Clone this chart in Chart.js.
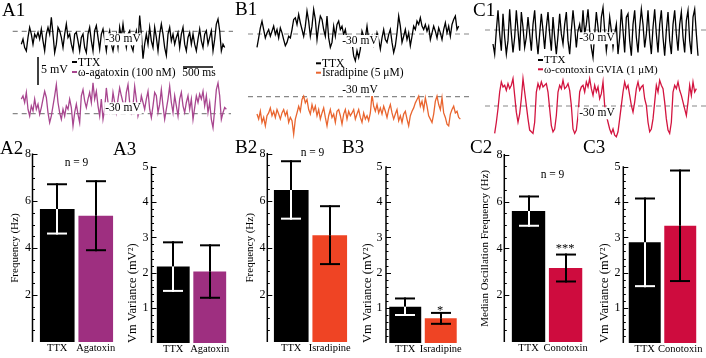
<!DOCTYPE html>
<html><head><meta charset="utf-8">
<script src="https://cdn.jsdelivr.net/npm/chart.js@4.4.1/dist/chart.umd.min.js"></script>
<style>
html,body{margin:0;padding:0;background:#fff}
#fig{position:relative;width:706px;height:358px;overflow:hidden;background:#fff}
#fig canvas{position:absolute}
</style></head>
<body><div id="fig"></div>
<script>
// ================= DATA =================
const refLevelMv = -30;
const scaleBarMv = 5, scaleBarMs = 500;
const sampleMs = 27.78;

const traceA1_TTX = [
-32.3,-31.4,-32.9,-33.5,-31.1,-29.3,-30.5,-32.3,-30.5,-31.1,
-30.2,-31.4,-29.6,-31.7,-33.5,-30.5,-29.3,-30.5,-27.5,-30.5,
-33.8,-32.3,-29.3,-29.9,-31.1,-32.9,-30.5,-28.7,-31.1,-30.5,
-32.3,-33.5,-30.5,-30.2,-31.7,-33.5,-31.1,-30.5,-32.9,-33.8,
-30.5,-29.3,-31.7,-33.5,-29.9,-29.0,-31.1,-33.2,-30.5,-29.6,
-31.4,-33.5,-31.1,-29.9,-32.3,-33.5,-31.7,-30.5,-32.9,-29.3,
-31.1,-28.7,-31.1,-32.9,-30.5,-29.9,-32.6,-33.5,-31.1,-29.9,
-32.3,-27.2,-30.5,-34.9,-32.3,-30.5,-32.3,-29.3,-31.7,-32.9,
-29.3,-31.1,-33.5,-30.5,-28.7,-30.5,-32.9,-34.3,-30.5,-29.3,
-31.7,-30.5,-32.3,-31.1,-30.2,-32.9,-30.5,-29.3,-32.3,-33.5,
-31.1,-30.2,-32.3,-30.5,-32.3,-33.5,-31.4,-29.6,-31.7,-32.9,
-30.5,-29.9,-32.3,-31.1,-29.9,-33.5,-31.4,-28.7,-27.8,-29.9,
-33.5,-32.3,-32.9];
const traceA1_Agatoxin = [
-27.4,-26.8,-28.0,-26.2,-29.2,-30.4,-28.6,-29.5,-27.4,-29.2,
-28.3,-30.1,-28.9,-27.4,-26.0,-27.1,-29.8,-31.6,-30.4,-28.6,
-26.8,-24.8,-28.0,-29.8,-31.0,-29.2,-30.4,-28.6,-29.2,-27.4,
-28.9,-32.2,-29.8,-28.3,-30.1,-31.6,-26.8,-25.7,-27.7,-28.9,
-27.4,-26.2,-28.0,-24.5,-27.4,-26.0,-28.6,-30.4,-27.4,-31.0,
-29.2,-25.4,-28.0,-29.8,-29.2,-26.2,-28.0,-29.8,-27.4,-25.4,
-26.8,-28.0,-29.2,-26.2,-24.8,-28.0,-29.8,-28.6,-25.1,-27.4,
-30.4,-29.2,-26.8,-28.0,-29.2,-27.4,-26.0,-29.2,-30.7,-28.6,
-26.2,-26.8,-29.8,-28.3,-25.7,-28.6,-31.0,-29.2,-27.4,-25.1,
-28.0,-29.8,-26.8,-28.6,-30.4,-27.4,-26.2,-28.6,-29.8,-28.0,
-26.8,-29.2,-27.4,-31.0,-28.9,-26.8,-28.0,-26.5,-27.4,-26.0,
-28.6,-26.8,-29.8,-28.0,-31.0,-32.5,-29.2,-25.7,-24.5,-26.8,
-31.0,-29.8,-28.9,-29.2];
const traceB1_TTX = [
-32.4,-30.7,-28.9,-27.7,-29.2,-30.7,-29.8,-29.2,-30.4,-29.5,
-28.6,-30.1,-29.2,-30.7,-28.9,-29.8,-31.0,-32.1,-31.5,-30.4,
-30.7,-29.2,-27.4,-27.1,-28.3,-26.5,-28.0,-29.2,-30.4,-28.6,
-25.9,-27.7,-30.4,-28.6,-25.6,-27.4,-31.0,-28.6,-26.8,-27.4,
-29.2,-30.4,-26.8,-30.7,-32.4,-31.5,-28.6,-30.4,-28.3,-27.7,
-29.2,-28.6,-30.1,-29.2,-31.0,-30.4,-32.1,-31.5,-33.9,-34.8,
-33.0,-34.2,-32.7,-29.5,-30.4,-30.7,-28.6,-31.0,-31.5,-30.4,
-32.1,-31.5,-29.8,-31.0,-32.7,-30.7,-29.2,-31.0,-31.5,-30.1,
-29.2,-31.5,-33.3,-32.1,-29.8,-26.8,-28.6,-31.5,-30.4,-29.2,
-31.0,-29.8,-32.1,-30.4,-28.6,-29.2,-27.7,-28.3,-27.1,-28.6,
-29.2,-28.3,-29.5,-28.6,-31.0,-29.8,-28.6,-29.5,-30.7,-28.9,
-29.8,-31.0,-29.2,-28.0,-29.8,-28.6,-30.4,-28.3,-27.4,-26.8,
-29.2,-28.6];
const traceB1_Isradipine = [
-33.1,-34.0,-32.6,-34.6,-33.7,-35.2,-33.4,-32.9,-32.0,-33.4,
-32.6,-33.7,-32.3,-33.1,-34.0,-32.9,-32.3,-33.4,-32.6,-34.6,
-33.7,-34.3,-36.7,-34.0,-32.9,-31.7,-32.6,-30.5,-29.9,-31.1,
-30.5,-32.3,-33.1,-31.4,-32.6,-31.7,-33.4,-32.3,-34.0,-32.9,
-32.0,-33.7,-35.2,-33.4,-32.3,-33.7,-33.1,-34.6,-32.6,-32.3,
-33.4,-34.9,-33.1,-32.3,-34.0,-32.6,-33.4,-32.9,-32.3,-34.0,
-33.1,-32.3,-33.7,-34.6,-32.9,-34.0,-33.4,-34.3,-32.9,-29.6,
-31.7,-32.6,-31.4,-32.9,-32.0,-33.1,-31.7,-32.6,-33.7,-32.3,
-31.4,-32.9,-34.0,-33.1,-32.3,-34.3,-33.4,-34.6,-33.1,-32.6,
-34.0,-35.2,-33.4,-32.6,-32.0,-31.1,-30.5,-29.9,-31.7,-30.8,
-32.3,-30.2,-31.7,-33.4,-34.0,-34.6,-33.1,-30.8,-29.9,-31.4,
-32.3,-30.2,-32.9,-33.7,-34.9,-35.2,-33.1,-32.3,-31.7,-32.9,
-32.6,-33.7,-34.0];
const traceC1_TTX = [
-32.5,-34.3,-30.1,-26.5,-30.7,-33.7,-27.1,-31.3,-34.3,-31.9,
-26.3,-30.7,-34.0,-31.3,-26.5,-30.1,-33.7,-26.8,-29.5,-33.1,
-31.3,-27.7,-30.7,-33.7,-29.0,-26.5,-31.3,-34.3,-30.7,-27.1,
-30.1,-33.4,-29.5,-26.8,-30.7,-33.7,-27.7,-31.3,-34.3,-31.0,
-27.1,-30.7,-32.5,-29.0,-26.8,-31.9,-34.3,-30.1,-26.5,-29.5,
-33.1,-30.1,-29.0,-31.3,-26.5,-30.7,-29.0,-26.3,-30.1,-33.1,
-34.9,-30.7,-26.8,-29.5,-32.5,-27.7,-26.0,-30.1,-33.7,-31.3,
-27.7,-30.1,-33.1,-30.7,-29.0,-34.3,-31.3,-26.3,-30.1,-34.0,
-27.7,-27.1,-31.9,-34.6,-29.0,-26.5,-31.3,-34.0,-29.5,-26.3,
-29.0,-33.1,-30.7,-26.5,-31.3,-34.3,-29.5,-26.3,-30.7,-34.0,
-29.0,-26.5,-31.3,-34.6,-30.1,-26.8,-31.9,-34.3,-29.0,-26.5,
-30.7,-33.7,-29.0,-26.8,-31.3,-34.0,-28.3,-26.5,-31.9,-34.3,
-27.7,-26.3,-30.7,-34.6];
const traceC1_Conotoxin = [
-34.9,-32.9,-30.5,-27.5,-25.7,-26.6,-26.3,-27.2,-26.0,-26.9,
-26.3,-25.1,-28.1,-31.1,-32.9,-31.4,-28.7,-25.1,-27.5,-29.9,
-32.3,-34.3,-34.6,-34.9,-32.9,-27.5,-26.0,-26.9,-25.7,-26.6,
-26.3,-26.0,-27.5,-30.5,-33.5,-34.6,-34.1,-31.7,-27.5,-26.3,
-26.9,-25.4,-26.9,-26.6,-26.0,-27.2,-29.9,-34.1,-34.9,-34.3,
-31.7,-27.5,-26.6,-26.3,-27.5,-25.7,-26.6,-25.1,-26.9,-28.1,
-26.3,-27.5,-26.6,-28.7,-27.8,-25.7,-29.9,-31.7,-32.9,-34.1,
-34.9,-34.1,-35.2,-35.5,-34.6,-32.3,-29.9,-27.5,-25.7,-26.9,
-26.3,-28.1,-29.9,-31.1,-29.3,-26.9,-25.7,-27.2,-26.6,-26.3,
-28.7,-29.9,-32.9,-34.6,-34.1,-32.3,-29.3,-26.3,-27.5,-25.4,
-26.3,-26.9,-29.3,-32.3,-34.3,-34.9,-32.9,-27.5,-26.3,-26.9,
-25.7,-27.2,-28.1,-29.3,-30.5,-31.7,-29.3,-26.3,-28.1,-25.7,
-27.5,-26.9];
const traceStartMsA1 = [0, 0];
const traceStartMsB1 = [0, 0];
const traceStartMsC1 = [0, 27.78];

const barLabelsA = ['TTX', 'Agatoxin'];
const barLabelsB = ['TTX', 'Isradipine'];
const barLabelsC = ['TTX', 'Conotoxin'];
const freqMeanA = [5.67, 5.38], freqErrA = [1.05, 1.47];
const varMeanA  = [2.17, 2.03], varErrA  = [0.69, 0.745];
const freqMeanB = [6.46, 4.54], freqErrB = [1.22, 1.23];
const varMeanB  = [1.03, 0.70], varErrB  = [0.235, 0.155];
const freqMeanC = [5.59, 3.16], freqErrC = [0.625, 0.575];
const varMeanC  = [2.86, 3.33], varErrC  = [1.245, 1.57];
const freqTicks = [2, 4, 6, 8];
const varTicks  = [1, 2, 3, 4, 5];
const nCells = 9;

// ================= STYLE / LAYOUT =================
const SERIF = "'Liberation Serif','Times New Roman',serif";
const COL = {ttx:'#000000', aga:'#9E2F80', isr:'#EF4424', cono:'#CE0C3E',
             agaTrace:'#A8468F', isrTrace:'#E9652F', conoTrace:'#D3143F', dash:'#888888'};
const msPerPx = 500/30, pxPerMv = 5.6;
Chart.defaults.font.family = SERIF;
const fig = document.getElementById('fig');

function makeCanvas(l,t,w,h){
  const c=document.createElement('canvas');
  c.width=w; c.height=h;
  c.style.left=l+'px'; c.style.top=t+'px'; c.style.width=w+'px'; c.style.height=h+'px';
  fig.appendChild(c); return c;
}
function seg(ctx,x1,y1,x2,y2){ctx.beginPath();ctx.moveTo(x1,y1);ctx.lineTo(x2,y2);ctx.stroke();}

// ---------- top trace panels ----------
const TOP_H = 140;
const topPanels = [
 {id:'A1', left:0, width:235, startPx:21.33,
  traces:[{values:traceA1_TTX, start:traceStartMsA1[0], color:COL.ttx, dashPx:31.3, dashX:[12.7,233]},
          {values:traceA1_Agatoxin, start:traceStartMsA1[1], color:COL.agaTrace, dashPx:113.7, dashX:[12.7,231]}],
  label:{text:'A1', x:2, y:11},
  mvLabels:[{x:123,y:39.3},{x:123,y:108.3}],
  legend:{x:72, size:11.5, rows:[{y:62,color:COL.ttx,text:'TTX'},{y:72,color:COL.agaTrace,text:'ω-agatoxin (100 nM)'}]},
  scaleBars:{vx:38, vy:57, hx:183, hy:67, vText:{x:41,y:70}, hText:{x:199,y:73}}},
 {id:'B1', left:235, width:235, startPx:22,
  traces:[{values:traceB1_TTX, start:traceStartMsB1[0], color:COL.ttx, dashPx:34, dashX:[248,470]},
          {values:traceB1_Isradipine, start:traceStartMsB1[1], color:COL.isrTrace, dashPx:96.7, dashX:[248,470]}],
  label:{text:'B1', x:235, y:10.5},
  mvLabels:[{x:360,y:41},{x:360,y:90}],
  legend:{x:316, size:11.5, rows:[{y:63.3,color:COL.ttx,text:'TTX'},{y:72.7,color:COL.isrTrace,text:'Isradipine (5 μM)'}]}},
 {id:'C1', left:470, width:236, startPx:23,
  traces:[{values:traceC1_TTX, start:traceStartMsC1[0], color:COL.ttx, dashPx:30, dashX:[485,706]},
          {values:traceC1_Conotoxin, start:traceStartMsC1[1], color:COL.conoTrace, dashPx:106, dashX:[485,706]}],
  label:{text:'C1', x:473, y:11},
  mvLabels:[{x:597,y:38.3},{x:597,y:113.3}],
  legend:{x:538, size:11, rows:[{y:60,color:COL.ttx,text:'TTX'},{y:69.3,color:COL.conoTrace,text:'ω-contoxin GVIA (1 μM)'}]}}
];

function makeTopPlugin(p){
  return {
    id:'top'+p.id,
    beforeDatasetsDraw(chart){
      const ctx=chart.ctx;
      ctx.save(); ctx.setLineDash([5,4]); ctx.strokeStyle=COL.dash; ctx.lineWidth=1.2;
      p.traces.forEach((tr,k)=>{
        const y=chart.scales[k?'y2':'y'].getPixelForValue(refLevelMv);
        seg(ctx,tr.dashX[0]-p.left,y,tr.dashX[1]-p.left,y);
      });
      ctx.restore();
    },
    afterDatasetsDraw(chart){
      const ctx=chart.ctx, L=p.left;
      ctx.save(); ctx.textBaseline='middle';
      ctx.font='11.5px '+SERIF;
      p.mvLabels.forEach(m=>{
        const t=refLevelMv+' mV', w=ctx.measureText(t).width;
        ctx.fillStyle='#fff'; ctx.fillRect(m.x-L-w/2-1, m.y-6, w+2, 12);
        ctx.fillStyle='#000'; ctx.textAlign='center'; ctx.fillText(t, m.x-L, m.y);
      });
      ctx.font=p.legend.size+'px '+SERIF; ctx.textAlign='left';
      p.legend.rows.forEach(r=>{
        ctx.strokeStyle=r.color; ctx.lineWidth=2; seg(ctx,p.legend.x-L,r.y,p.legend.x-L+5,r.y);
        ctx.fillStyle='#000'; ctx.fillText(r.text,p.legend.x-L+6,r.y+0.5);
      });
      if(p.scaleBars){
        const sb=p.scaleBars, ys=chart.scales.y, xs=chart.scales.x;
        const vlen=Math.abs(ys.getPixelForValue(refLevelMv)-ys.getPixelForValue(refLevelMv-scaleBarMv));
        const hlen=Math.abs(xs.getPixelForValue(scaleBarMs)-xs.getPixelForValue(0));
        ctx.strokeStyle='#000'; ctx.lineWidth=1.5;
        seg(ctx,sb.vx-L,sb.vy,sb.vx-L,sb.vy+vlen);
        seg(ctx,sb.hx-L,sb.hy,sb.hx-L+hlen,sb.hy);
        ctx.fillStyle='#000'; ctx.font='12px '+SERIF; ctx.textAlign='left';
        ctx.fillText(scaleBarMv+' mV',sb.vText.x-L,sb.vText.y);
        ctx.font='11.5px '+SERIF; ctx.textAlign='center';
        ctx.fillText(scaleBarMs+' ms',sb.hText.x-L,sb.hText.y);
      }
      ctx.font='19px '+SERIF; ctx.textAlign='left'; ctx.fillStyle='#000';
      ctx.fillText(p.label.text,p.label.x-L,p.label.y);
      ctx.restore();
    }
  };
}

topPanels.forEach(p=>{
  const cv=makeCanvas(p.left,0,p.width,TOP_H);
  const xmin=-p.startPx*msPerPx, xmax=xmin+p.width*msPerPx;
  const yr=p.traces.map(tr=>{const max=refLevelMv+tr.dashPx/pxPerMv; return {min:max-TOP_H/pxPerMv, max};});
  new Chart(cv,{
    type:'line',
    data:{datasets:p.traces.map((tr,k)=>({
      data:tr.values.map((v,i)=>({x:tr.start+i*sampleMs,y:v})),
      yAxisID:k?'y2':'y', borderColor:tr.color, borderWidth:1.3,
      pointRadius:0, tension:0, fill:false}))},
    options:{responsive:false, animation:false, events:[],
      layout:{padding:0},
      plugins:{legend:{display:false}, tooltip:{enabled:false}},
      scales:{x:{type:'linear',display:false,min:xmin,max:xmax},
              y:{type:'linear',display:false,min:yr[0].min,max:yr[0].max},
              y2:{type:'linear',display:false,min:yr[1].min,max:yr[1].max}}},
    plugins:[makeTopPlugin(p)]
  });
});

// ---------- bar panels ----------
const barPanels = [
 {id:'A2', canvas:[0,140,118,218], plot:[38,152,115,342], axisX:32.5, tickRight:31, titleX:15,
  title:'Frequency (Hz)', titleSize:11, titleAlign:'center', max:8, ticks:freqTicks, minorStep:0.5,
  labels:barLabelsA, means:freqMeanA, errs:freqErrA, colors:[COL.ttx,COL.aga],
  notes:[{text:'A2',x:0,y:149,size:19,align:'left'},{text:'n = '+nCells,x:76.5,y:163,size:11.5}]},
 {id:'A3', canvas:[108,140,127,218], plot:[155,167,228,343], axisX:151.5, tickRight:148.5, titleX:133,
  title:'Vm Variance (mV²)', titleSize:12.5, titleAlign:'start', max:5, ticks:varTicks, minorStep:0.2,
  labels:barLabelsA, means:varMeanA, errs:varErrA, colors:[COL.ttx,COL.aga],
  notes:[{text:'A3',x:113,y:150.5,size:19,align:'left'}]},
 {id:'B2', canvas:[235,140,118,218], plot:[272,152,349,342], axisX:267.3, tickRight:265.5, titleX:250,
  title:'Frequency (Hz)', titleSize:11, titleAlign:'center', max:8, ticks:freqTicks, minorStep:0.5,
  labels:barLabelsB, means:freqMeanB, errs:freqErrB, colors:[COL.ttx,COL.isr],
  notes:[{text:'B2',x:235,y:148.5,size:19,align:'left'},{text:'n = '+nCells,x:312.5,y:153,size:11.5}]},
 {id:'B3', canvas:[340,140,130,218], plot:[387.5,167,458.5,343], axisX:386, tickRight:382.5, titleX:368,
  title:'Vm Variance (mV²)', titleSize:12.5, titleAlign:'start', max:5, ticks:varTicks, minorStep:0.2,
  labels:barLabelsB, means:varMeanB, errs:varErrB, colors:[COL.ttx,COL.isr],
  notes:[{text:'B3',x:342,y:148.5,size:19,align:'left'},{text:'*',x:440,y:311,size:12.5}]},
 {id:'C2', canvas:[470,140,118,218], plot:[510,152,587,342], axisX:504.3, tickRight:502.5, titleX:485,
  title:'Median Oscillation Frequency (Hz)', titleSize:11, titleAlign:'center', max:8, ticks:freqTicks, minorStep:0.5,
  labels:barLabelsC, means:freqMeanC, errs:freqErrC, colors:[COL.ttx,COL.cono],
  notes:[{text:'C2',x:470,y:148,size:19,align:'left'},{text:'n = '+nCells,x:552.5,y:175,size:11.5},{text:'***',x:565,y:249,size:12.5}]},
 {id:'C3', canvas:[580,140,126,218], plot:[627,167,698,343], axisX:623.3, tickRight:620.5, titleX:605,
  title:'Vm Variance (mV²)', titleSize:12.5, titleAlign:'start', max:5, ticks:varTicks, minorStep:0.2,
  labels:barLabelsC, means:varMeanC, errs:varErrC, colors:[COL.ttx,COL.cono],
  notes:[{text:'C3',x:583,y:148,size:19,align:'left'}]}
];

function makeBarPlugin(p){
  return {
    id:'bar'+p.id,
    afterDatasetsDraw(chart){
      const ctx=chart.ctx, ys=chart.scales.y, meta=chart.getDatasetMeta(0), ds=chart.data.datasets[0];
      const cl=p.canvas[0], ct=p.canvas[1];
      ctx.save(); ctx.lineCap='butt';
      meta.data.forEach((bar,i)=>{
        const m=ds.data[i], e=ds.errors[i], x=Math.round(bar.x);
        const yt=ys.getPixelForValue(m+e), ym=ys.getPixelForValue(m), yb=ys.getPixelForValue(m-e);
        ctx.lineWidth=2;
        ctx.strokeStyle='#000';
        seg(ctx,x,yt-1,x,ym); seg(ctx,x-10,yt,x+10,yt);
        ctx.strokeStyle = p.colors[i]===COL.ttx ? '#ffffff' : '#000000';
        seg(ctx,x,ym,x,yb+1); seg(ctx,x-10,yb,x+10,yb);
      });
      const ax=p.axisX-cl, y0=ys.getPixelForValue(0), y1=ys.getPixelForValue(p.max);
      ctx.strokeStyle='#000'; ctx.lineWidth=1.5;
      seg(ctx,ax,y0,ax,y1-0.75);
      ctx.lineWidth=1;
      const n=Math.round(p.max/p.minorStep);
      for(let k=1;k<=n;k++){
        const v=k*p.minorStep, major=p.ticks.some(t=>Math.abs(t-v)<1e-6);
        const y=Math.round(ys.getPixelForValue(v))+0.5;
        seg(ctx,ax,y,ax+(major?5:2.5),y);
      }
      ctx.fillStyle='#000'; ctx.textBaseline='middle';
      p.notes.forEach(nt=>{
        ctx.font=nt.size+'px '+SERIF; ctx.textAlign=nt.align||'center';
        ctx.fillText(nt.text,nt.x-cl,nt.y-ct);
      });
      ctx.restore();
    }
  };
}

barPanels.forEach(p=>{
  const [cl,ct,cw,chh]=p.canvas, [pl,pt,pr,pb]=p.plot;
  const cv=makeCanvas(cl,ct,cw,chh);
  new Chart(cv,{
    type:'bar',
    data:{labels:p.labels, datasets:[{data:p.means, errors:p.errs, backgroundColor:p.colors,
      borderWidth:0, barPercentage:0.9, categoryPercentage:1}]},
    options:{responsive:false, animation:false, events:[],
      layout:{padding:{left:0, top:pt-ct, right:cl+cw-pr, bottom:0}},
      plugins:{legend:{display:false}, tooltip:{enabled:false}},
      scales:{
        x:{type:'category', grid:{display:false,drawTicks:false}, border:{display:false},
           ticks:{color:'#000', font:{family:SERIF,size:10.5}, padding:0, maxRotation:0, minRotation:0, autoSkip:false},
           afterFit:s=>{s.height=ct+chh-pb;}},
        y:{type:'linear', min:0, max:p.max, grid:{display:false,drawTicks:false}, border:{display:false},
           ticks:{color:'#000', font:{family:SERIF,size:12}, padding:pl-p.tickRight},
           afterBuildTicks:s=>{s.ticks=p.ticks.map(v=>({value:v}));},
           afterFit:s=>{s.width=pl-cl;},
           title:{display:true, text:p.title, color:'#000', font:{family:SERIF,size:p.titleSize},
                  align:p.titleAlign, padding:{top:(p.titleX-cl)-p.titleSize*0.6, bottom:0}}}
      }},
    plugins:[makeBarPlugin(p)]
  });
});
</script>
</body></html>
